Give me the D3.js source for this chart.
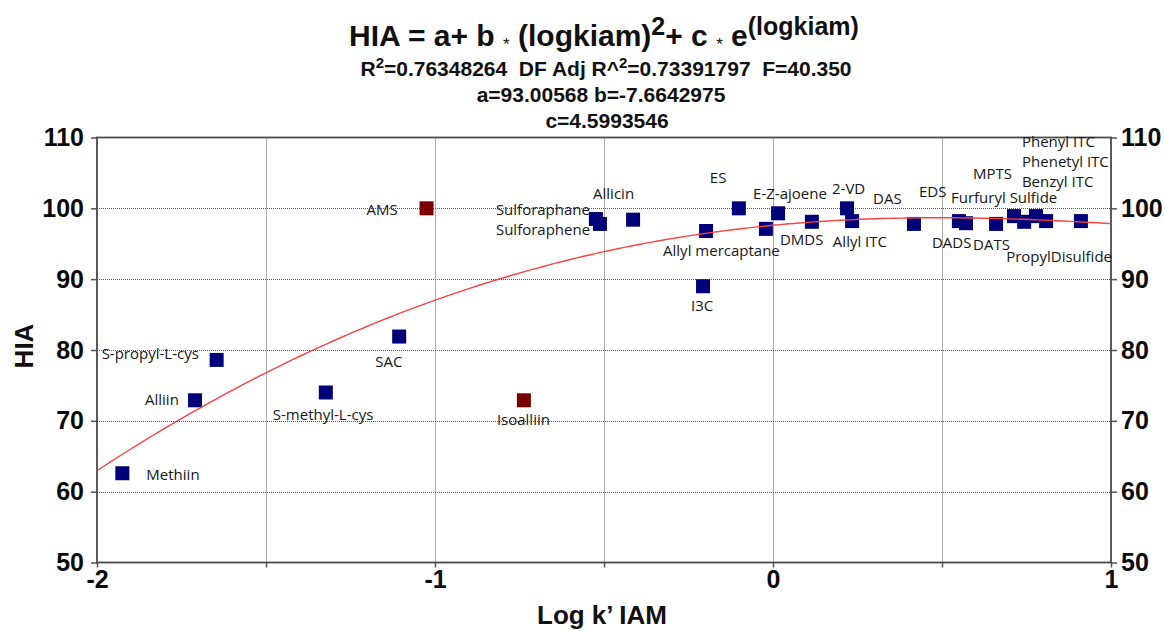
<!DOCTYPE html>
<html>
<head>
<meta charset="utf-8">
<script src="https://cdn.jsdelivr.net/npm/d3@7"></script>
<style>
  body { margin: 0; background: #fff; }
  text { white-space: pre; }
</style>
</head>
<body>
<div id="chart"></div>
<script>
// compounds, in the order they are drawn
var compounds = ["Methiin", "Alliin", "S-propyl-L-cys", "S-methyl-L-cys", "SAC",
  "AMS", "Isoalliin", "Sulforaphane", "Sulforaphene", "Allicin",
  "Allyl mercaptane", "I3C", "ES", "DMDS", "E-Z-ajoene", "Allyl ITC", "2-VD",
  "DAS", "EDS", "DADS", "Furfuryl Sulfide", "DATS", "MPTS", "PropylDisulfide",
  "Phenyl ITC", "Phenetyl ITC", "Benzyl ITC"];
var logKiam = [-1.925, -1.710, -1.646, -1.323, -1.106,
  -1.025, -0.737, -0.524, -0.512, -0.414,
  -0.198, -0.207, -0.101, -0.021, 0.015, 0.115, 0.219,
  0.234, 0.417, 0.550, 0.571, 0.660, 0.713, 0.743,
  0.778, 0.808, 0.911];
var hiaValues = [62.6, 72.9, 78.6, 74.0, 81.9,
  100.0, 72.9, 98.5, 97.8, 98.4,
  96.8, 89.0, 100.0, 97.1, 99.3, 98.1, 100.0,
  98.2, 97.8, 98.2, 97.9, 97.8, 98.9, 98.1,
  98.9, 98.2, 98.2];
var outliers = ["AMS", "Isoalliin"]; // drawn in dark red

// fit coefficients, as printed in the title
var coefA = 93.00568,
  coefB = -7.6642975,
  coefC = 4.5993546;

var xTicks = [-2, -1.5, -1, -0.5, 0, 0.5, 1];
var yTicks = [50, 60, 70, 80, 90, 100, 110];

// label placement (pixels from the marker centre, text starts there)
var labelDx = [24, -50, -115, -53, -24, -60, -27, -100, -104, -40,
  -43, -12, -29, 14, -25, 21, -15, 21, 5, -27, -15, -23, -41, -18,
  -14, -24, -59];
var labelDy = [7, 5, -1, 27, 30, 7, 25, -3.5, 11, -21,
  25, 25, -25, 16, -14, 25, -14, -17, -27, 27, -20, 26, -37, 40,
  -69, -54, -34];

var width = 1165,
  height = 631,
  margin = { top: 137.5, right: 54, bottom: 68.5, left: 97 };

var svg = d3.select('#chart')
  .append('svg')
  .attr('width', width)
  .attr('height', height);

var x = d3.scaleLinear()
  .domain([-2, 1])
  .range([margin.left, width - margin.right]);

var y = d3.scaleLinear()
  .domain([50, 110])
  .range([height - margin.bottom, margin.top]);

// title block
var title = svg.append('g')
  .attr('font-family', 'Liberation Sans, Arial, sans-serif')
  .attr('font-weight', 'bold')
  .attr('fill', '#111')
  .attr('text-anchor', 'middle');

var t1 = title.append('text')
  .attr('x', 604)
  .attr('y', 46)
  .attr('font-size', 30);
t1.append('tspan').text('HIA = a+ b ');
t1.append('tspan').attr('font-size', 17).attr('font-weight', 'normal').attr('dy', 4).text('*');
t1.append('tspan').attr('dy', -4).text(' (logkiam)');
t1.append('tspan').attr('font-size', 25).attr('dy', -11).text('2');
t1.append('tspan').attr('dy', 11).text('+ c ');
t1.append('tspan').attr('font-size', 17).attr('font-weight', 'normal').attr('dy', 4).text('*');
t1.append('tspan').attr('dy', -4).text(' e');
t1.append('tspan').attr('font-size', 25).attr('dy', -11).text('(logkiam)');

var t2 = title.append('text')
  .attr('x', 606)
  .attr('y', 76)
  .attr('font-size', 21);
t2.append('tspan').text('R');
t2.append('tspan').attr('font-size', 15).attr('dy', -8).text('2');
t2.append('tspan').attr('dy', 8).text('=0.76348264  DF Adj R^');
t2.append('tspan').attr('font-size', 15).attr('dy', -8).text('2');
t2.append('tspan').attr('dy', 8).text('=0.73391797  F=40.350');

title.append('text')
  .attr('x', 601)
  .attr('y', 102)
  .attr('font-size', 21)
  .text('a=' + coefA + ' b=' + coefB);

title.append('text')
  .attr('x', 607)
  .attr('y', 128)
  .attr('font-size', 21)
  .text('c=' + coefC);

// grid
var grid = svg.append('g')
  .attr('stroke', '#5a5a5a')
  .attr('stroke-width', 1)
  .attr('stroke-dasharray', '1,1');

grid.selectAll('line.vx')
  .data(xTicks.filter(function(d) { return d > -2 && d < 1; }))
  .enter()
  .append('line')
  .attr('x1', function(d) { return Math.round(x(d)) + 0.5; })
  .attr('x2', function(d) { return Math.round(x(d)) + 0.5; })
  .attr('y1', y(110))
  .attr('y2', y(50));

grid.selectAll('line.hy')
  .data(yTicks.filter(function(d) { return d > 50 && d < 110; }))
  .enter()
  .append('line')
  .attr('x1', x(-2))
  .attr('x2', x(1))
  .attr('y1', function(d) { return Math.round(y(d)) + 0.5; })
  .attr('y2', function(d) { return Math.round(y(d)) + 0.5; });

// axes
function styleAxis(g) {
  g.select('.domain').remove();
  g.selectAll('.tick line').attr('stroke', '#555').attr('stroke-width', 1.5);
  g.selectAll('.tick text')
    .attr('fill', '#0a0a0a')
    .attr('font-family', 'Liberation Sans, Arial, sans-serif')
    .attr('font-weight', 'bold')
    .attr('font-size', 25);
}

svg.append('g')
  .attr('transform', 'translate(' + x(-2) + ',0)')
  .call(d3.axisLeft(y).tickValues(yTicks).tickSize(6).tickPadding(7)
    .tickFormat(function(d) { return String(d); }))
  .call(styleAxis);

svg.append('g')
  .attr('transform', 'translate(' + x(1) + ',0)')
  .call(d3.axisRight(y).tickValues(yTicks).tickSize(6).tickPadding(4)
    .tickFormat(function(d) { return String(d); }))
  .call(styleAxis);

svg.append('g')
  .attr('transform', 'translate(0,' + y(50) + ')')
  .call(d3.axisBottom(x).tickValues(xTicks).tickSize(5).tickPadding(3)
    .tickFormat(function(d) { return Number.isInteger(d) ? String(d) : ''; }))
  .call(styleAxis);

// frame
svg.append('rect')
  .attr('x', x(-2))
  .attr('y', y(110))
  .attr('width', x(1) - x(-2))
  .attr('height', y(50) - y(110))
  .attr('fill', 'none')
  .attr('stroke', '#4a4a4a')
  .attr('stroke-width', 1.8);

// axis titles
svg.append('text')
  .attr('x', 602)
  .attr('y', 624)
  .attr('text-anchor', 'middle')
  .attr('font-family', 'Liberation Sans, Arial, sans-serif')
  .attr('font-weight', 'bold')
  .attr('font-size', 26)
  .attr('fill', '#111')
  .text('Log k\u2019 IAM');

svg.append('text')
  .attr('transform', 'translate(33,346) rotate(-90)')
  .attr('text-anchor', 'middle')
  .attr('font-family', 'Liberation Sans, Arial, sans-serif')
  .attr('font-weight', 'bold')
  .attr('font-size', 26)
  .attr('fill', '#111')
  .text('HIA');

// points
var points = compounds.map(function(name, i) {
  return { name: name, logk: logKiam[i], hia: hiaValues[i], i: i };
});

var size = 14;
svg.append('g')
  .selectAll('rect')
  .data(points)
  .enter()
  .append('rect')
  .attr('x', function(d) { return x(d.logk) - size / 2; })
  .attr('y', function(d) { return y(d.hia) - size / 2; })
  .attr('width', size)
  .attr('height', size)
  .attr('fill', function(d) {
    return outliers.indexOf(d.name) >= 0 ? '#7a0000' : '#000078';
  });

// fitted curve
var curveX = d3.range(-2, 1.0001, 0.02);
var line = d3.line()
  .x(function(d) { return x(d); })
  .y(function(d) { return y(coefA + coefB * d * d + coefC * Math.exp(d)); });

svg.append('path')
  .datum(curveX)
  .attr('d', line)
  .attr('fill', 'none')
  .attr('stroke', '#ff4040')
  .attr('stroke-width', 1.4);

// labels
svg.append('g')
  .selectAll('text')
  .data(points)
  .enter()
  .append('text')
  .attr('x', function(d) { return x(d.logk) + labelDx[d.i]; })
  .attr('y', function(d) { return y(d.hia) + labelDy[d.i]; })
  .attr('font-family', 'Open Sans, sans-serif')
  .attr('font-size', 15)
  .attr('fill', '#161616')
  .text(function(d) { return d.name; });
</script>
</body>
</html>
